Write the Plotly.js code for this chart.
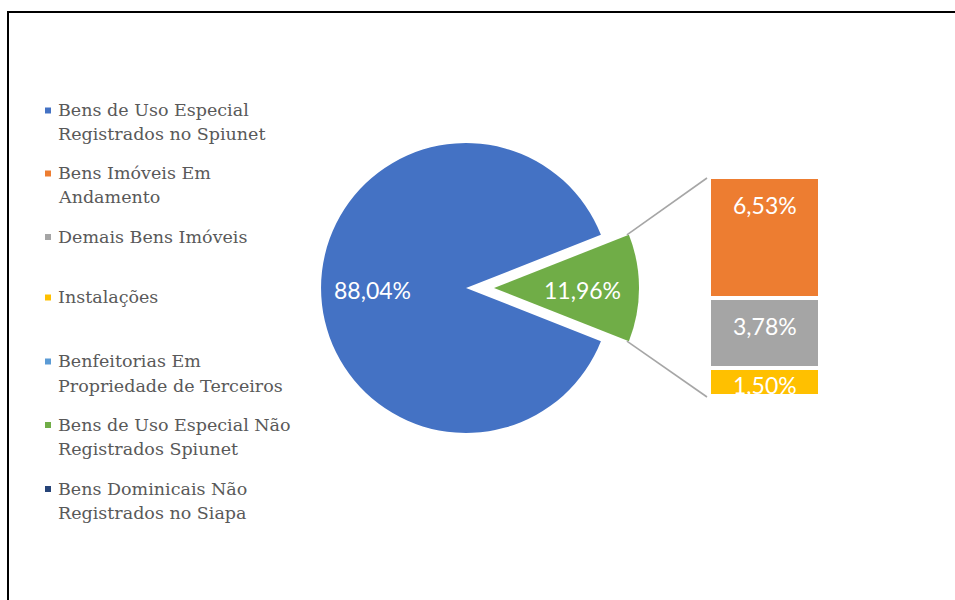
<!DOCTYPE html>
<html><head><meta charset="utf-8">
<script src="https://cdn.plot.ly/plotly-3.0.1.min.js"></script>
<style>html,body{margin:0;padding:0;background:#fff}</style>
</head><body><div id="chart" style="width:955px;height:600px"></div>
<script>
// ---------- data ----------
const categories = [
  'Bens de Uso Especial Registrados no Spiunet',
  'Bens Imóveis Em Andamento',
  'Demais Bens Imóveis',
  'Instalações',
  'Benfeitorias Em Propriedade de Terceiros',
  'Bens de Uso Especial Não Registrados Spiunet',
  'Bens Dominicais Não Registrados no Siapa'
];
const legendLines = [
  ['Bens de Uso Especial', 'Registrados no Spiunet'],
  ['Bens Imóveis Em', 'Andamento'],
  ['Demais Bens Imóveis'],
  ['Instalações'],
  ['Benfeitorias Em', 'Propriedade de Terceiros'],
  ['Bens de Uso Especial Não', 'Registrados Spiunet'],
  ['Bens Dominicais Não', 'Registrados no Siapa']
];
const colors = ['#4472C4', '#ED7D31', '#A5A5A5', '#FFC000', '#5B9BD5', '#70AD47', '#264478'];
const pieLabels = [categories[0], categories[5]];
const pieValues = [88.04, 11.96];
const barLabels = [categories[1], categories[2], categories[3]];
const barValues = [6.53, 3.78, 1.50];

// ---------- layout constants ----------
const W = 955, H = 600;
const pieDom = {x: [0.3068, 0.6692], y: [0.2317, 0.8083]};
const pull = 0.193;
const pieLabelRadius = [0.645, 0.607];
const barDomX = [709 / W, 820 / W];
const barDomY = [1 - 396 / H, 1 - 177 / H];
const barLabelShift = [-12, -12, -1];
const legendLineY = [[110, 134], [173, 197], [236.5], [297], [361, 386], [424.5, 449], [488.5, 513]];
const legendTextX = 56, legendMarkX = 45, legendMark = 6;
const labelFont = {family: 'Lato', size: 23, color: '#ffffff'};
const fmt = v => v.toFixed(2).replace('.', ',') + '%';
const px2x = p => p / W, px2y = p => 1 - p / H;

const pieTotal = pieValues.reduce((a, b) => a + b, 0);
const barTotal = barValues.reduce((a, b) => a + b, 0);

const traces = [];
traces.push({
  type: 'pie', labels: pieLabels, values: pieValues, sort: false,
  direction: 'clockwise', rotation: 90 + pieValues[1] / pieTotal * 180,
  pull: [0, pull], marker: {colors: [colors[0], colors[5]], line: {width: 0}},
  textinfo: 'none', domain: pieDom, hoverinfo: 'none', showlegend: false
});
for (let i = barValues.length - 1; i >= 0; i--) {
  traces.push({
    type: 'bar', x: [0], y: [barValues[i]], name: barLabels[i], width: 1,
    marker: {color: colors[i + 1], line: {color: '#ffffff', width: 4}},
    textposition: 'none', hoverinfo: 'none', showlegend: false
  });
}

const annotations = [];
const shapes = [];

// pie geometry (same formula Plotly uses to size a pie in its domain)
const r = Math.min(W * (pieDom.x[1] - pieDom.x[0]), H * (pieDom.y[1] - pieDom.y[0])) / (2 + 2 * pull);
const cx = W * (pieDom.x[0] + pieDom.x[1]) / 2;
const cy = H * (1 - (pieDom.y[0] + pieDom.y[1]) / 2);
const half = pieValues[1] / pieTotal * Math.PI;
const apex = cx + pull * r;

// pie labels
annotations.push({
  xref: 'paper', yref: 'paper', x: px2x(cx - pieLabelRadius[0] * r), y: px2y(cy + 2),
  xanchor: 'center', yanchor: 'middle', text: fmt(pieValues[0]), showarrow: false, font: labelFont
});
annotations.push({
  xref: 'paper', yref: 'paper', x: px2x(apex + pieLabelRadius[1] * r), y: px2y(cy + 2),
  xanchor: 'center', yanchor: 'middle', text: fmt(pieValues[1]), showarrow: false, font: labelFont
});

// bar labels
for (let i = 0; i < barValues.length; i++) {
  let top = 0;
  for (let j = i; j < barValues.length; j++) top += barValues[j];
  annotations.push({
    xref: 'x', yref: 'y', x: 0, y: top, yanchor: 'top', yshift: barLabelShift[i],
    text: fmt(barValues[i]), showarrow: false, font: labelFont
  });
}
// legend
legendLines.forEach((lines, k) => {
  lines.forEach((t, m) => {
    annotations.push({
      xref: 'paper', yref: 'paper', x: px2x(legendTextX), y: px2y(legendLineY[k][m]),
      xanchor: 'left', yanchor: 'middle', text: t, showarrow: false,
      font: {family: 'DejaVu Serif', size: 17.5, color: '#595959'}
    });
  });
  const cyM = legendLineY[k][0] + 0.5;
  shapes.push({
    type: 'rect', xref: 'paper', yref: 'paper',
    x0: px2x(legendMarkX), x1: px2x(legendMarkX + legendMark),
    y0: px2y(cyM - legendMark / 2), y1: px2y(cyM + legendMark / 2),
    fillcolor: colors[k], line: {width: 0}
  });
});
// connector lines from the pulled slice to the bar
const sx = apex + r * Math.cos(half);
const barLeft = W * barDomX[0] + 2;
const barTop = H * (1 - barDomY[1]) + 2;
const barBot = H * (1 - barDomY[0]) - 2;
[[cy - r * Math.sin(half), barTop - 1], [cy + r * Math.sin(half), barBot + 3]].forEach(([y0, y1]) => {
  shapes.push({
    type: 'line', xref: 'paper', yref: 'paper',
    x0: px2x(sx - 2), y0: px2y(y0), x1: px2x(barLeft - 4), y1: px2y(y1),
    line: {color: '#A6A6A6', width: 1.6}
  });
});
// frame
shapes.push({
  type: 'rect', xref: 'paper', yref: 'paper', x0: px2x(8), x1: 1.05, y0: -0.05, y1: px2y(12),
  line: {color: '#000000', width: 2}, fillcolor: 'rgba(0,0,0,0)'
});

const layout = {
  width: W, height: H, margin: {l: 0, r: 0, t: 0, b: 0},
  paper_bgcolor: '#ffffff', plot_bgcolor: 'rgba(0,0,0,0)',
  separators: ',.', barmode: 'stack', showlegend: false,
  xaxis: {domain: barDomX, range: [-0.5, 0.5], visible: false, fixedrange: true},
  yaxis: {domain: barDomY, range: [0, barTotal], visible: false, fixedrange: true},
  annotations: annotations, shapes: shapes
};
Plotly.newPlot('chart', traces, layout, {staticPlot: true, displayModeBar: false});
</script>
</body></html>
